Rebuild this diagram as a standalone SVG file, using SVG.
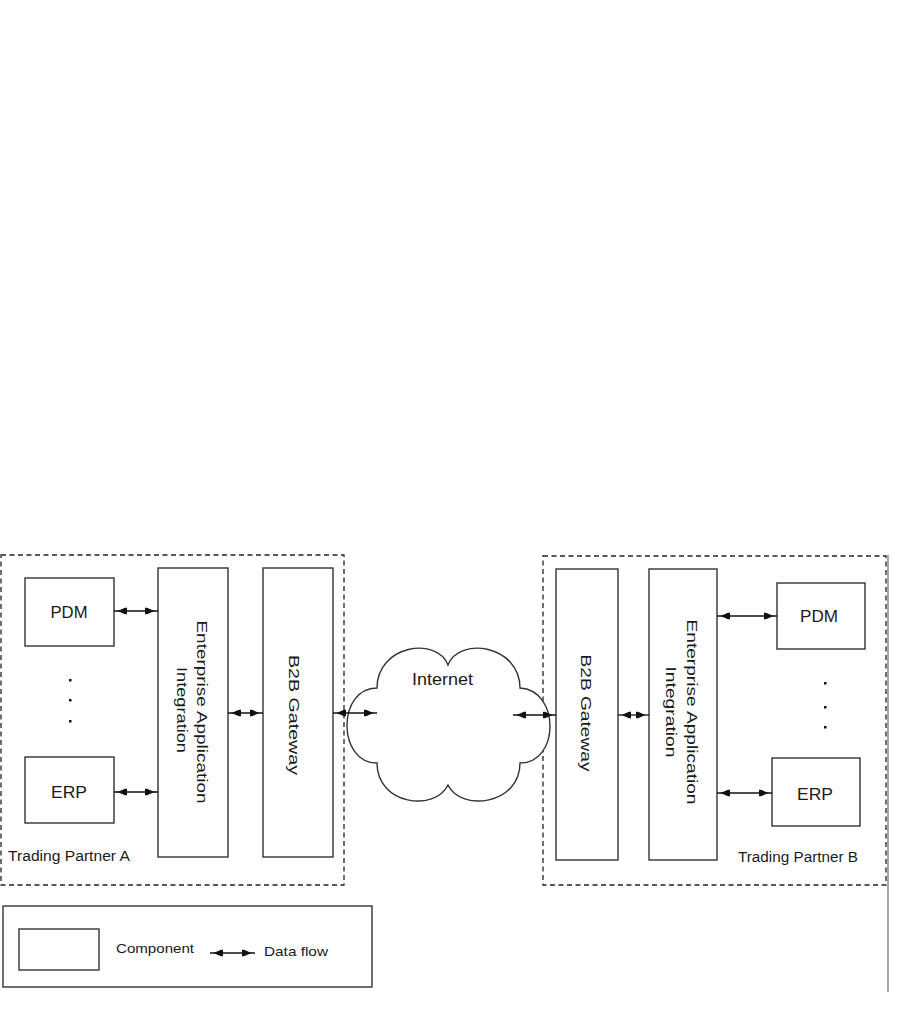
<svg xmlns="http://www.w3.org/2000/svg" width="910" height="1035" viewBox="0 0 910 1035">
<style>
.box{fill:#fff;stroke:#333;stroke-width:1.4}
.dash{fill:none;stroke:#222;stroke-width:1.3;stroke-dasharray:5,3.5}
.lbl{font-family:"Liberation Sans",Arial,sans-serif;fill:#1a1a1a}
.flow{fill:none;stroke:#111;stroke-width:1.3;marker-start:url(#ah);marker-end:url(#ah)}
.dot{fill:#111}
</style>
<defs>
<marker id="ah" markerUnits="userSpaceOnUse" viewBox="0 0 13 8" refX="13" refY="4" markerWidth="13" markerHeight="8" orient="auto-start-reverse">
<path d="M0,0.8 L2,0.8 L9.5,4 L2,7.2 L0,7.2 z" fill="#111"/>
</marker>
</defs>
<rect width="910" height="1035" fill="#fff"/>

<g id="partnerA">
<rect class="dash" x="1" y="555" width="343" height="330"/>
<text class="lbl" x="8" y="861" font-size="14" textLength="122" lengthAdjust="spacingAndGlyphs">Trading Partner A</text>
</g>
<g id="partnerB">
<rect class="dash" x="543" y="556" width="343" height="329"/>
<line x1="888" y1="555" x2="888" y2="992" stroke="#777" stroke-width="1.3"/>
<text class="lbl" x="738" y="862" font-size="14" textLength="120" lengthAdjust="spacingAndGlyphs">Trading Partner B</text>
</g>

<g id="cloud">
<path class="box" stroke="#111" stroke-width="1.6" d="M377,688 C377,645 437,636 448,665 C459,636 520,645 520,688 C560,690 560,763 520,763 C520,805 461,812 448,785 C435,812 377,805 377,763 C337,763 337,688 377,688 Z"/>
<text class="lbl" x="442.5" y="685" font-size="17" text-anchor="middle" textLength="61" lengthAdjust="spacingAndGlyphs">Internet</text>
</g>

<g id="pdmA">
<rect class="box" x="25" y="578" width="89" height="68"/>
<text class="lbl" x="69" y="618" font-size="17" text-anchor="middle" textLength="37" lengthAdjust="spacingAndGlyphs">PDM</text>
</g>
<g id="erpA">
<rect class="box" x="25" y="757" width="89" height="66"/>
<text class="lbl" x="69" y="798" font-size="17" text-anchor="middle" textLength="36" lengthAdjust="spacingAndGlyphs">ERP</text>
</g>
<g id="dotsA">
<rect class="dot" x="69" y="679" width="2.5" height="2.5"/>
<rect class="dot" x="69" y="699" width="2.5" height="2.5"/>
<rect class="dot" x="69" y="720" width="2.5" height="2.5"/>
</g>
<g id="eaiA">
<rect class="box" x="158" y="568" width="70" height="289"/>
<text class="lbl" x="197" y="712" font-size="15" text-anchor="middle" textLength="183" lengthAdjust="spacingAndGlyphs" transform="rotate(90 197 712)">Enterprise Application</text>
<text class="lbl" x="177" y="710" font-size="15" text-anchor="middle" textLength="86" lengthAdjust="spacingAndGlyphs" transform="rotate(90 177 710)">Integration</text>
</g>
<g id="b2bA">
<rect class="box" x="263" y="568" width="70" height="289"/>
<text class="lbl" x="289" y="715" font-size="15" text-anchor="middle" textLength="120" lengthAdjust="spacingAndGlyphs" transform="rotate(90 289 715)">B2B Gateway</text>
</g>

<g id="b2bB">
<rect class="box" x="556" y="569" width="62" height="291"/>
<text class="lbl" x="581" y="713" font-size="15" text-anchor="middle" textLength="117" lengthAdjust="spacingAndGlyphs" transform="rotate(90 581 713)">B2B Gateway</text>
</g>
<g id="eaiB">
<rect class="box" x="649" y="569" width="68" height="291"/>
<text class="lbl" x="687" y="712" font-size="15" text-anchor="middle" textLength="185" lengthAdjust="spacingAndGlyphs" transform="rotate(90 687 712)">Enterprise Application</text>
<text class="lbl" x="666" y="712" font-size="15" text-anchor="middle" textLength="91" lengthAdjust="spacingAndGlyphs" transform="rotate(90 666 712)">Integration</text>
</g>
<g id="pdmB">
<rect class="box" x="777" y="583" width="88" height="66"/>
<text class="lbl" x="819" y="622" font-size="17" text-anchor="middle" textLength="38" lengthAdjust="spacingAndGlyphs">PDM</text>
</g>
<g id="erpB">
<rect class="box" x="772" y="758" width="88" height="68"/>
<text class="lbl" x="815" y="800" font-size="17" text-anchor="middle" textLength="36" lengthAdjust="spacingAndGlyphs">ERP</text>
</g>
<g id="dotsB">
<rect class="dot" x="824" y="682" width="2.5" height="2.5"/>
<rect class="dot" x="824" y="706" width="2.5" height="2.5"/>
<rect class="dot" x="824" y="726" width="2.5" height="2.5"/>
</g>

<g id="connectors">
<line class="flow" x1="114" y1="611" x2="158" y2="611"/>
<line class="flow" x1="114" y1="792" x2="158" y2="792"/>
<line class="flow" x1="228" y1="713" x2="263" y2="713"/>
<line class="flow" x1="333" y1="713" x2="377" y2="713"/>
<line class="flow" x1="513" y1="715" x2="556" y2="715"/>
<line class="flow" x1="618" y1="715" x2="649" y2="715"/>
<line class="flow" x1="717" y1="616" x2="777" y2="616"/>
<line class="flow" x1="717" y1="793" x2="772" y2="793"/>
</g>

<g id="legend">
<rect class="box" stroke="#222" x="3" y="906" width="369" height="81"/>
<rect class="box" stroke="#222" x="19" y="929" width="80" height="41"/>
<text class="lbl" x="116" y="953" font-size="13" textLength="78" lengthAdjust="spacingAndGlyphs">Component</text>
<line class="flow" x1="210" y1="953" x2="255" y2="953"/>
<text class="lbl" x="264" y="956" font-size="13" textLength="64" lengthAdjust="spacingAndGlyphs">Data flow</text>
</g>
</svg>
